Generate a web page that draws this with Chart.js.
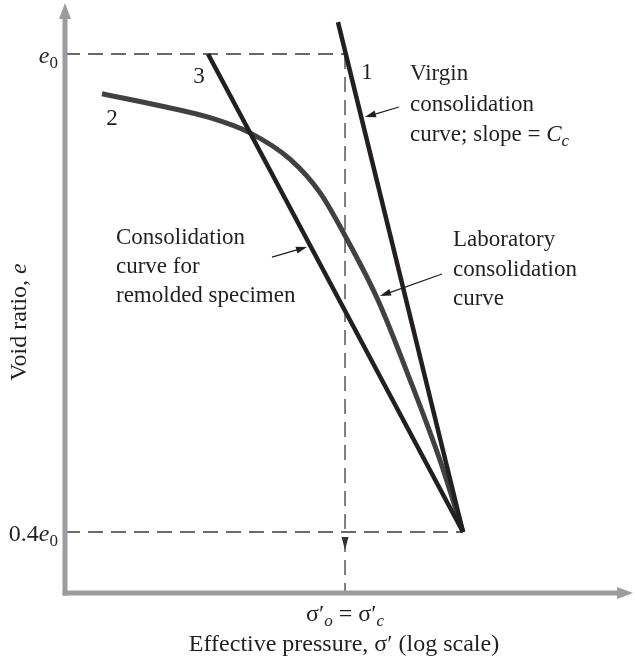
<!DOCTYPE html>
<html>
<head>
<meta charset="utf-8">
<script src="https://cdn.jsdelivr.net/npm/chart.js@4.4.1/dist/chart.umd.min.js"></script>
<style>
  html, body { margin: 0; padding: 0; background: #ffffff; }
  #wrap { width: 635px; height: 665px; }
</style>
</head>
<body>
<div id="wrap"><canvas id="c" width="635" height="665"></canvas></div>
<script>
// ---- Data (x: log10 effective pressure, arbitrary units; y: void ratio as fraction of e0) ----
const virginX = [4.806, 7.007];
const virginY = [1.040, 0.400];
const remoldX = [2.518, 7.007];
const remoldY = [1.000, 0.400];
const labX = [0.651, 1.673, 2.553, 3.257, 3.961, 4.489, 4.930, 5.511, 6.074, 6.602, 7.007];
const labY = [0.950, 0.935, 0.920, 0.901, 0.868, 0.826, 0.772, 0.691, 0.591, 0.490, 0.400];
const yTickValues = [1.0, 0.4];
const yTickLabels = ['e0', '0.4e0'];
const xTickValues = [4.93];
const xTickLabels = ['σ′o = σ′c'];
const pointVoid = 0.400;     // void ratio at end of curves
const pointPress = 7.007;    // pressure at end of curves
const xRange = [0, 10];
const yRange = [0.3234, 1.064];

const toPts = (xs, ys) => xs.map((x, i) => ({ x: x, y: ys[i] }));

const INK = '#231f20';
const SERIF = '"Liberation Serif", "DejaVu Serif", serif';

function fnt(size, italic) { return (italic ? 'italic ' : '') + size + 'px ' + SERIF; }

// draw runs of text: parts = [[text, size, italic, dy], ...]
function drawRuns(ctx, parts, x, y, align) {
  let total = 0;
  parts.forEach(p => { ctx.font = fnt(p[1], p[2]); total += ctx.measureText(p[0]).width; });
  let cx = x;
  if (align === 'center') cx = x - total / 2;
  else if (align === 'right') cx = x - total;
  ctx.textAlign = 'left';
  ctx.textBaseline = 'alphabetic';
  parts.forEach(p => {
    ctx.font = fnt(p[1], p[2]);
    ctx.fillText(p[0], cx, y + (p[3] || 0));
    cx += ctx.measureText(p[0]).width;
  });
}

function arrow(ctx, x1, y1, x2, y2, len, half, color, lw) {
  const a = Math.atan2(y2 - y1, x2 - x1);
  ctx.save();
  ctx.strokeStyle = color; ctx.fillStyle = color; ctx.lineWidth = lw;
  ctx.beginPath();
  ctx.moveTo(x1, y1);
  ctx.lineTo(x2 - Math.cos(a) * len * 0.8, y2 - Math.sin(a) * len * 0.8);
  ctx.stroke();
  ctx.beginPath();
  ctx.moveTo(x2, y2);
  ctx.lineTo(x2 - Math.cos(a) * len - Math.sin(a) * half, y2 - Math.sin(a) * len + Math.cos(a) * half);
  ctx.lineTo(x2 - Math.cos(a) * len + Math.sin(a) * half, y2 - Math.sin(a) * len - Math.cos(a) * half);
  ctx.closePath();
  ctx.fill();
  ctx.restore();
}

const decor = {
  id: 'decor',
  afterDatasetsDraw(chart) {
    const ctx = chart.ctx;
    const xs = chart.scales.x, ys = chart.scales.y;
    const ca = chart.chartArea;
    const axisCol = '#9b9ca0';
    ctx.save();
    // vertical dashed arrowhead
    const vx = xs.getPixelForValue(xTickValues[0]);
    const ay = ys.getPixelForValue(pointVoid) + 18;
    ctx.fillStyle = '#333';
    ctx.beginPath();
    ctx.moveTo(vx, ay);
    ctx.lineTo(vx - 3.5, ay - 13);
    ctx.lineTo(vx + 3.5, ay - 13);
    ctx.closePath();
    ctx.fill();

    // axes
    const ox = ca.left, oy = ca.bottom;
    ctx.strokeStyle = axisCol; ctx.fillStyle = axisCol; ctx.lineWidth = 5;
    ctx.beginPath();
    ctx.moveTo(ox, oy + 2.5);
    ctx.lineTo(ox, ca.top + 12);
    ctx.stroke();
    ctx.beginPath();
    ctx.moveTo(ox - 2.5, oy);
    ctx.lineTo(ca.right - 12, oy);
    ctx.stroke();
    ctx.beginPath();
    ctx.moveTo(ox, ca.top);
    ctx.lineTo(ox - 6, ca.top + 16);
    ctx.lineTo(ox + 6, ca.top + 16);
    ctx.closePath(); ctx.fill();
    ctx.beginPath();
    ctx.moveTo(ca.right, oy);
    ctx.lineTo(ca.right - 16, oy - 6);
    ctx.lineTo(ca.right - 16, oy + 6);
    ctx.closePath(); ctx.fill();

    ctx.fillStyle = INK;
    // y tick labels
    const y0 = ys.getPixelForValue(yTickValues[0]);
    drawRuns(ctx, [['e', 24, true, 0], ['0', 17, false, 5]], 58, y0 + 9, 'right');
    const y1 = ys.getPixelForValue(yTickValues[1]);
    drawRuns(ctx, [['0.4', 24, false, 0], ['e', 24, true, 0], ['0', 17, false, 5]], 58, y1 + 9, 'right');

    // x tick label
    drawRuns(ctx, [['σ′', 24, false, 0], ['o', 17, true, 5], [' = σ′', 24, false, 0], ['c', 17, true, 5]], vx, oy + 28, 'center');

    // axis titles
    drawRuns(ctx, [['Effective pressure, σ′ (log scale)', 24, false, 0]], 344, 651, 'center');
    ctx.save();
    ctx.translate(26, 322);
    ctx.rotate(-Math.PI / 2);
    drawRuns(ctx, [['Void ratio, ', 24, false, 0], ['e', 24, true, 0]], 0, 0, 'center');
    ctx.restore();

    // curve numbers
    drawRuns(ctx, [['1', 23, false, 0]], 367, 79, 'center');
    drawRuns(ctx, [['2', 23, false, 0]], 112, 125, 'center');
    drawRuns(ctx, [['3', 23, false, 0]], 199, 83, 'center');

    // annotations
    drawRuns(ctx, [['Virgin', 23, false, 0]], 410, 80, 'left');
    drawRuns(ctx, [['consolidation', 23, false, 0]], 410, 111, 'left');
    drawRuns(ctx, [['curve; slope = ', 23, false, 0], ['C', 23, true, 0], ['c', 17, true, 5]], 410, 141, 'left');

    drawRuns(ctx, [['Consolidation', 23, false, 0]], 116, 244, 'left');
    drawRuns(ctx, [['curve for', 23, false, 0]], 116, 273, 'left');
    drawRuns(ctx, [['remolded specimen', 23, false, 0]], 116, 302, 'left');

    drawRuns(ctx, [['Laboratory', 23, false, 0]], 453, 246, 'left');
    drawRuns(ctx, [['consolidation', 23, false, 0]], 453, 276, 'left');
    drawRuns(ctx, [['curve', 23, false, 0]], 453, 305, 'left');

    arrow(ctx, 399, 107, 365, 117, 11, 3.5, INK, 1.3);
    arrow(ctx, 272, 257, 307, 247, 11, 3.5, INK, 1.3);
    arrow(ctx, 442, 274, 380, 296, 11, 3.5, INK, 1.3);
    ctx.restore();
  }
};

const dashStyle = { borderColor: '#3a3a3a', borderWidth: 1.5, borderDash: [15, 8], pointRadius: 0, showLine: true, fill: false, tension: 0, order: 5 };

new Chart(document.getElementById('c'), {
  type: 'scatter',
  data: {
    datasets: [
      Object.assign({ label: 'e0 level', data: [{ x: xRange[0], y: yTickValues[0] }, { x: xTickValues[0], y: yTickValues[0] }] }, dashStyle),
      Object.assign({ label: '0.4 e0 level', data: [{ x: xRange[0], y: yTickValues[1] }, { x: pointPress, y: yTickValues[1] }] }, dashStyle),
      Object.assign({ label: 'sigma c', data: [{ x: xTickValues[0], y: yTickValues[0] }, { x: xTickValues[0], y: yRange[0] }] }, dashStyle, { borderColor: '#555' }),
      { label: 'Laboratory', data: toPts(labX, labY), borderColor: '#414143', borderWidth: 5, pointRadius: 0, showLine: true, cubicInterpolationMode: 'monotone', order: 3 },
      { label: 'Remolded', data: toPts(remoldX, remoldY), borderColor: INK, borderWidth: 4.5, pointRadius: 0, showLine: true, order: 1 },
      { label: 'Virgin', data: toPts(virginX, virginY), borderColor: INK, borderWidth: 4.5, pointRadius: 0, showLine: true, order: 1 }
    ]
  },
  options: {
    responsive: false,
    animation: false,
    devicePixelRatio: 1,
    layout: { padding: { left: 65, right: 2, top: 3, bottom: 72 } },
    plugins: { legend: { display: false }, tooltip: { enabled: false } },
    scales: {
      x: { type: 'linear', min: xRange[0], max: xRange[1], display: false },
      y: { type: 'linear', min: yRange[0], max: yRange[1], display: false }
    }
  },
  plugins: [decor]
});
</script>
</body>
</html>
